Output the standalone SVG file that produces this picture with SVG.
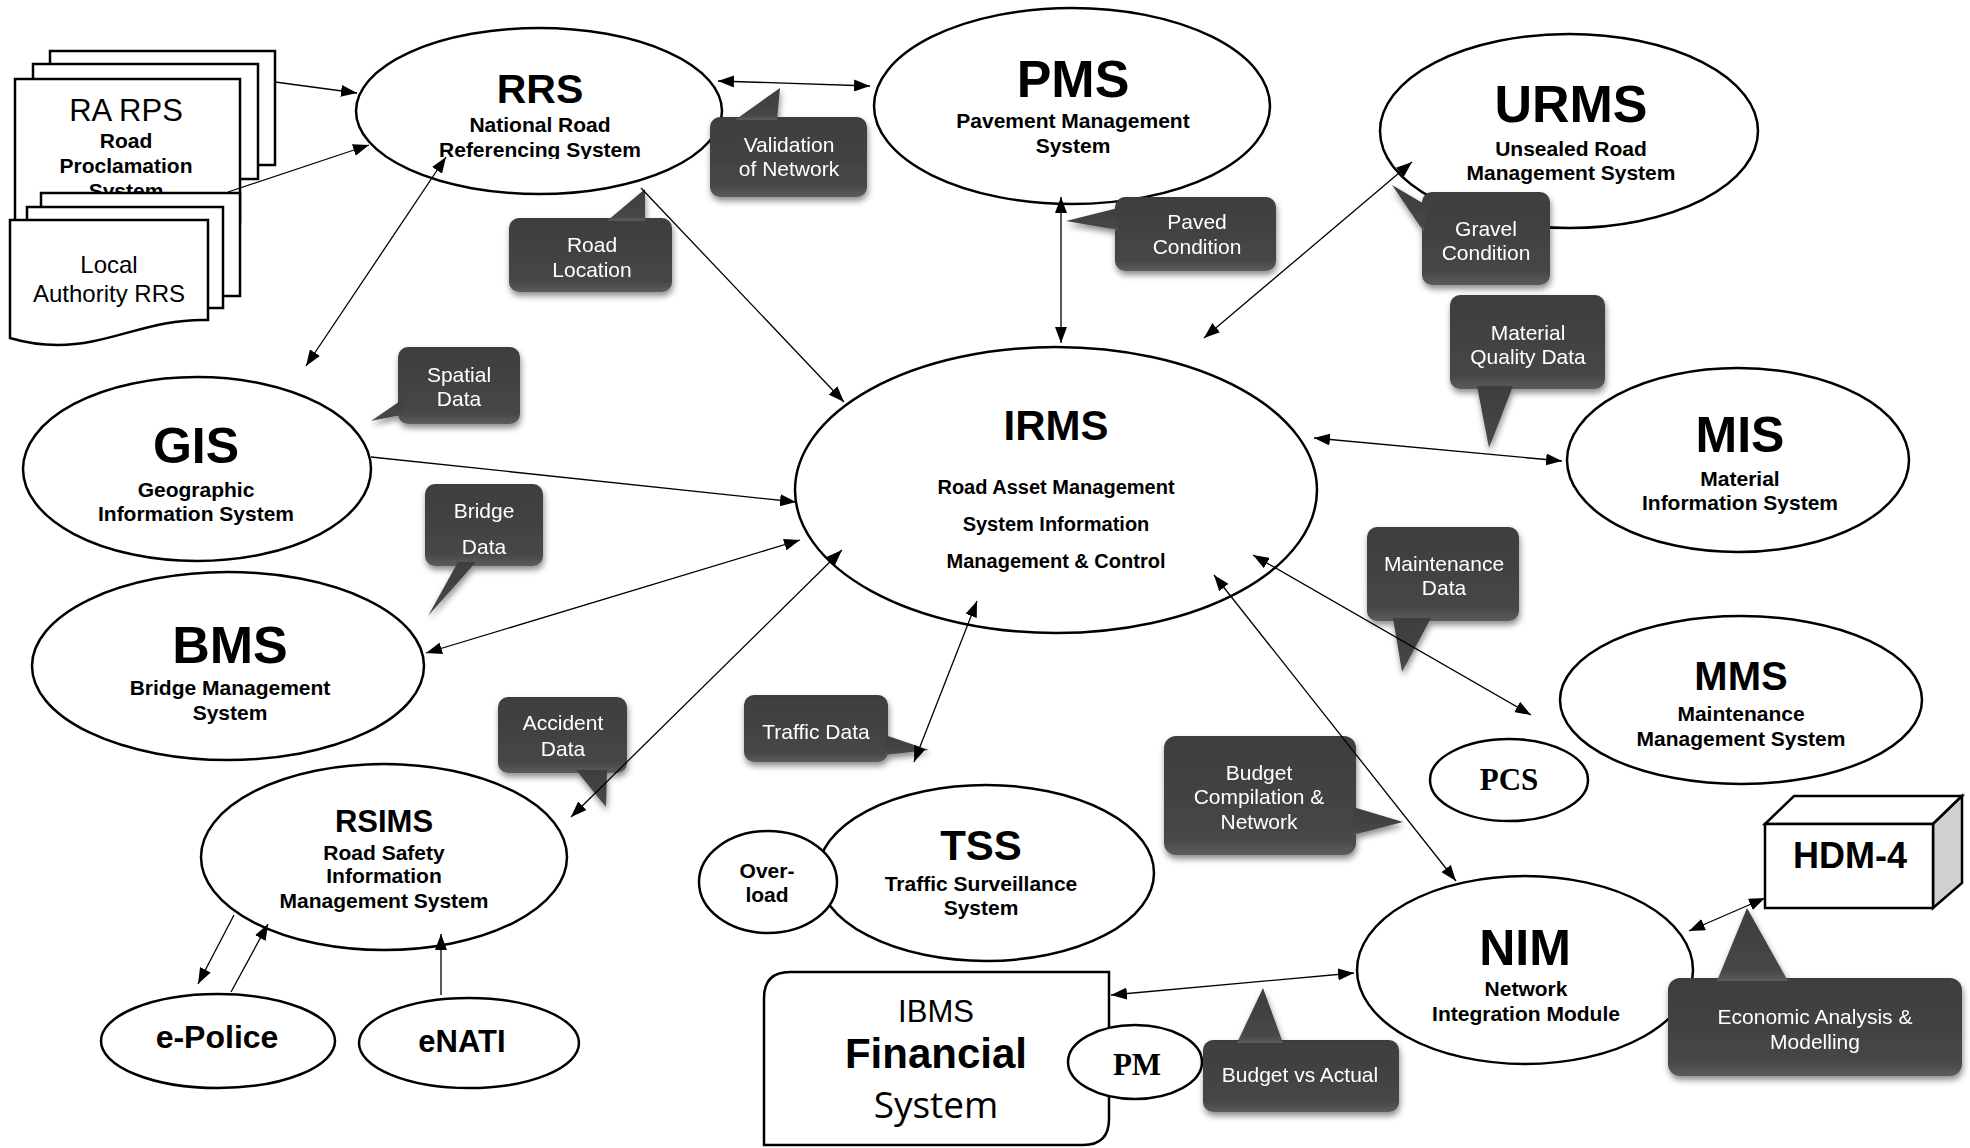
<svg xmlns="http://www.w3.org/2000/svg" width="1970" height="1148" viewBox="0 0 1970 1148">
<style>
  text{font-family:"Liberation Sans",Arial,sans-serif;text-anchor:middle;fill:#000}
  .node{fill:#fff;stroke:#000;stroke-width:2.5}
  .page{fill:#fff;stroke:#000;stroke-width:2.5}
  .big{font-weight:bold}
  .sub{font-weight:bold;font-size:21px}
  .bt{fill:#fff;font-size:21px}
  .serif{font-family:"Liberation Serif","Times New Roman",serif;font-weight:bold;font-size:31px}
  .bub{fill:url(#bg)}
  .conn line{stroke:#000;stroke-width:1.3;fill:none}
</style>
<defs>
  <linearGradient id="bg" x1="0" y1="0" x2="0" y2="1">
    <stop offset="0" stop-color="#3e3e3e"/>
    <stop offset="0.85" stop-color="#464646"/>
    <stop offset="1" stop-color="#5c5c5c"/>
  </linearGradient>
  <filter id="sh" x="-20%" y="-20%" width="140%" height="150%">
    <feDropShadow dx="1" dy="4" stdDeviation="3" flood-color="#000" flood-opacity="0.45"/>
  </filter>
  <marker id="ah" viewBox="0 0 16 12" refX="16" refY="6" markerWidth="16" markerHeight="12" markerUnits="userSpaceOnUse" orient="auto-start-reverse">
    <path d="M0,0 L16,6 L0,12 z" fill="#000"/>
  </marker>
  <clipPath id="clipRRS"><rect x="350" y="20" width="380" height="139"/></clipPath>
  <clipPath id="clipBud"><rect x="1160" y="730" width="200" height="102"/></clipPath>
</defs>
<rect width="1970" height="1148" fill="#fff"/>

<!-- Document stacks -->
<g id="ra-rps">
  <rect class="page" x="50" y="51" width="225" height="114"/>
  <rect class="page" x="33" y="64" width="225" height="115"/>
  <rect class="page" x="15" y="79" width="225" height="143"/>
  <text x="126" y="121" font-size="31">RA RPS</text>
  <text class="sub" x="126" y="148">Road</text>
  <text class="sub" x="126" y="173">Proclamation</text>
  <text class="sub" x="126" y="198">System</text>
</g>
<g id="local-rrs">
  <rect class="page" x="41" y="193" width="199" height="103"/>
  <rect class="page" x="27" y="207" width="196" height="101"/>
  <path class="page" d="M10,220 H208 V320 C150,318 110,345 58,345 C35,345 20,341 10,338 Z"/>
  <text x="109" y="273" font-size="24">Local</text>
  <text x="109" y="302" font-size="24">Authority RRS</text>
</g>

<g id="rrs">
  <ellipse class="node" cx="539" cy="111" rx="183" ry="83"/>
  <text class="big" x="540" y="103" font-size="41">RRS</text>
  <g clip-path="url(#clipRRS)">
    <text class="sub" x="540" y="132">National Road</text>
    <text class="sub" x="540" y="157">Referencing System</text>
  </g>
</g>
<g id="pms">
  <ellipse class="node" cx="1072" cy="106" rx="198" ry="98"/>
  <text class="big" x="1073" y="97" font-size="52">PMS</text>
  <text class="sub" x="1073" y="128">Pavement Management</text>
  <text class="sub" x="1073" y="153">System</text>
</g>
<g id="urms">
  <ellipse class="node" cx="1569" cy="131" rx="189" ry="97"/>
  <text class="big" x="1571" y="122" font-size="52">URMS</text>
  <text class="sub" x="1571" y="156">Unsealed Road</text>
  <text class="sub" x="1571" y="180">Management System</text>
</g>
<g id="mis">
  <ellipse class="node" cx="1738" cy="460" rx="171" ry="92"/>
  <text class="big" x="1740" y="452" font-size="50">MIS</text>
  <text class="sub" x="1740" y="486">Material</text>
  <text class="sub" x="1740" y="510">Information System</text>
</g>
<g id="irms">
  <ellipse class="node" cx="1056" cy="490" rx="261" ry="143"/>
  <text class="big" x="1056" y="440" font-size="42">IRMS</text>
  <text class="big" x="1056" y="494" font-size="20">Road Asset Management</text>
  <text class="big" x="1056" y="531" font-size="20">System Information</text>
  <text class="big" x="1056" y="568" font-size="20">Management &amp; Control</text>
</g>
<g id="gis">
  <ellipse class="node" cx="197" cy="469" rx="174" ry="92"/>
  <text class="big" x="196" y="463" font-size="50">GIS</text>
  <text class="sub" x="196" y="497">Geographic</text>
  <text class="sub" x="196" y="521">Information System</text>
</g>
<g id="bms">
  <ellipse class="node" cx="228" cy="666" rx="196" ry="94"/>
  <text class="big" x="230" y="663" font-size="52">BMS</text>
  <text class="sub" x="230" y="695">Bridge Management</text>
  <text class="sub" x="230" y="720">System</text>
</g>
<g id="rsims">
  <ellipse class="node" cx="384" cy="857" rx="183" ry="93"/>
  <text class="big" x="384" y="832" font-size="31">RSIMS</text>
  <text class="sub" x="384" y="860">Road Safety</text>
  <text class="sub" x="384" y="883">Information</text>
  <text class="sub" x="384" y="908">Management System</text>
</g>
<g id="epolice">
  <ellipse class="node" cx="218" cy="1041" rx="117" ry="47"/>
  <text class="big" x="217" y="1048" font-size="32">e-Police</text>
</g>
<g id="enati">
  <ellipse class="node" cx="469" cy="1043" rx="110" ry="45"/>
  <text class="big" x="462" y="1052" font-size="31">eNATI</text>
</g>
<g id="tss">
  <ellipse class="node" cx="986" cy="873" rx="168" ry="88"/>
  <text class="big" x="981" y="860" font-size="42">TSS</text>
  <text class="sub" x="981" y="891">Traffic Surveillance</text>
  <text class="sub" x="981" y="915">System</text>
</g>
<g id="overload">
  <ellipse class="node" cx="768" cy="882" rx="69" ry="51"/>
  <text class="sub" x="767" y="878">Over-</text>
  <text class="sub" x="767" y="902">load</text>
</g>
<g id="ibms">
  <path class="node" d="M764,998 Q764,972 790,972 H1109 V1119 Q1109,1145 1083,1145 H764 Z"/>
  <text x="936" y="1022" font-size="31">IBMS</text>
  <text class="big" x="936" y="1068" font-size="42">Financial</text>
  <text x="936" y="1118" font-size="37" style="font-family:'Open Sans','Liberation Sans',sans-serif">System</text>
</g>
<g id="pm">
  <ellipse class="node" cx="1135" cy="1062" rx="67" ry="37"/>
  <text class="serif" x="1137" y="1075">PM</text>
</g>
<g id="pcs">
  <ellipse class="node" cx="1509" cy="780" rx="79" ry="41"/>
  <text class="serif" x="1509" y="790">PCS</text>
</g>
<g id="mms">
  <ellipse class="node" cx="1741" cy="700" rx="181" ry="84"/>
  <text class="big" x="1741" y="690" font-size="40">MMS</text>
  <text class="sub" x="1741" y="721">Maintenance</text>
  <text class="sub" x="1741" y="746">Management System</text>
</g>
<g id="nim">
  <ellipse class="node" cx="1525" cy="970" rx="168" ry="94"/>
  <text class="big" x="1525" y="965" font-size="50">NIM</text>
  <text class="sub" x="1526" y="996">Network</text>
  <text class="sub" x="1526" y="1021">Integration Module</text>
</g>
<g id="hdm4">
  <polygon class="node" points="1765,824 1794,796 1962,796 1933,824"/>
  <polygon class="node" points="1933,824 1962,796 1962,883 1933,908" style="fill:#d0d0d0"/>
  <rect class="node" x="1765" y="824" width="168" height="84"/>
  <text class="big" x="1850" y="868" font-size="36">HDM-4</text>
</g>

<!-- Callout labels -->
<g id="lbl-validation" filter="url(#sh)">
  <rect class="bub" x="710" y="117" width="157" height="80" rx="10"/>
  <polygon class="bub" points="735,120 780,88 777,120"/>
  <text class="bt" x="789" y="152">Validation</text>
  <text class="bt" x="789" y="176">of Network</text>
</g>
<g id="lbl-roadloc" filter="url(#sh)">
  <rect class="bub" x="509" y="218" width="163" height="74" rx="10"/>
  <polygon class="bub" points="607,221 645,189 645,221"/>
  <text class="bt" x="592" y="252">Road</text>
  <text class="bt" x="592" y="277">Location</text>
</g>
<g id="lbl-paved" filter="url(#sh)">
  <rect class="bub" x="1115" y="197" width="161" height="74" rx="10"/>
  <polygon class="bub" points="1118,208 1066,221 1118,230"/>
  <text class="bt" x="1197" y="229">Paved</text>
  <text class="bt" x="1197" y="254">Condition</text>
</g>
<g id="lbl-gravel" filter="url(#sh)">
  <rect class="bub" x="1422" y="192" width="128" height="93" rx="10"/>
  <polygon class="bub" points="1426,205 1392,185 1424,232"/>
  <text class="bt" x="1486" y="236">Gravel</text>
  <text class="bt" x="1486" y="260">Condition</text>
</g>
<g id="lbl-material" filter="url(#sh)">
  <rect class="bub" x="1450" y="295" width="155" height="94" rx="10"/>
  <polygon class="bub" points="1477,386 1489,448 1513,386"/>
  <text class="bt" x="1528" y="340">Material</text>
  <text class="bt" x="1528" y="364">Quality Data</text>
</g>
<g id="lbl-spatial" filter="url(#sh)">
  <rect class="bub" x="398" y="347" width="122" height="77" rx="10"/>
  <polygon class="bub" points="406,397 371,421 401,415"/>
  <text class="bt" x="459" y="382">Spatial</text>
  <text class="bt" x="459" y="406">Data</text>
</g>
<g id="lbl-bridge" filter="url(#sh)">
  <rect class="bub" x="425" y="484" width="118" height="82" rx="10"/>
  <polygon class="bub" points="458,562 428,616 476,562"/>
  <text class="bt" x="484" y="518">Bridge</text>
  <text class="bt" x="484" y="554">Data</text>
</g>
<g id="lbl-maint" filter="url(#sh)">
  <rect class="bub" x="1367" y="527" width="152" height="94" rx="10"/>
  <polygon class="bub" points="1393,618 1402,672 1431,618"/>
  <text class="bt" x="1444" y="571">Maintenance</text>
  <text class="bt" x="1444" y="595">Data</text>
</g>
<g id="lbl-accident" filter="url(#sh)">
  <rect class="bub" x="498" y="697" width="129" height="76" rx="10"/>
  <polygon class="bub" points="576,770 606,807 607,770"/>
  <text class="bt" x="563" y="730">Accident</text>
  <text class="bt" x="563" y="756">Data</text>
</g>
<g id="lbl-traffic" filter="url(#sh)">
  <rect class="bub" x="744" y="695" width="144" height="67" rx="10"/>
  <polygon class="bub" points="885,735 929,750 885,755"/>
  <text class="bt" x="816" y="739">Traffic Data</text>
</g>
<g id="lbl-budget" filter="url(#sh)">
  <rect class="bub" x="1164" y="736" width="192" height="119" rx="12"/>
  <polygon class="bub" points="1353,807 1403,822 1353,835"/>
  <g clip-path="url(#clipBud)">
    <text class="bt" x="1259" y="780">Budget</text>
    <text class="bt" x="1259" y="804">Compilation &amp;</text>
    <text class="bt" x="1259" y="829">Network</text>
  </g>
</g>
<g id="lbl-bva" filter="url(#sh)">
  <rect class="bub" x="1203" y="1040" width="196" height="72" rx="10"/>
  <polygon class="bub" points="1237,1043 1263,988 1283,1043"/>
  <text class="bt" x="1300" y="1082">Budget vs Actual</text>
</g>
<g id="lbl-econ" filter="url(#sh)">
  <rect class="bub" x="1668" y="978" width="294" height="98" rx="12"/>
  <polygon class="bub" points="1717,981 1747,908 1788,981"/>
  <text class="bt" x="1815" y="1024">Economic Analysis &amp;</text>
  <text class="bt" x="1815" y="1049">Modelling</text>
</g>

<!-- Connectors -->
<g id="connectors" class="conn">
  <line x1="275" y1="82" x2="357" y2="93" marker-end="url(#ah)"/>
  <line x1="228" y1="192" x2="369" y2="145" marker-end="url(#ah)"/>
  <line x1="718" y1="81" x2="870" y2="86" marker-start="url(#ah)" marker-end="url(#ah)"/>
  <line x1="446" y1="157" x2="306" y2="366" marker-start="url(#ah)" marker-end="url(#ah)"/>
  <line x1="641" y1="188" x2="844" y2="402" marker-end="url(#ah)"/>
  <line x1="1061" y1="197" x2="1061" y2="343" marker-start="url(#ah)" marker-end="url(#ah)"/>
  <line x1="1412" y1="162" x2="1204" y2="338" marker-start="url(#ah)" marker-end="url(#ah)"/>
  <line x1="1314" y1="438" x2="1562" y2="461" marker-start="url(#ah)" marker-end="url(#ah)"/>
  <line x1="371" y1="457" x2="796" y2="502" marker-end="url(#ah)"/>
  <line x1="426" y1="653" x2="800" y2="540" marker-start="url(#ah)" marker-end="url(#ah)"/>
  <line x1="571" y1="817" x2="842" y2="550" marker-start="url(#ah)" marker-end="url(#ah)"/>
  <line x1="914" y1="762" x2="977" y2="601" marker-start="url(#ah)" marker-end="url(#ah)"/>
  <line x1="1253" y1="555" x2="1531" y2="715" marker-start="url(#ah)" marker-end="url(#ah)"/>
  <line x1="1214" y1="575" x2="1456" y2="881" marker-start="url(#ah)" marker-end="url(#ah)"/>
  <line x1="1111" y1="995" x2="1354" y2="973" marker-start="url(#ah)" marker-end="url(#ah)"/>
  <line x1="1689" y1="931" x2="1765" y2="898" marker-start="url(#ah)" marker-end="url(#ah)"/>
  <line x1="234" y1="915" x2="198" y2="984" marker-end="url(#ah)"/>
  <line x1="231" y1="992" x2="268" y2="924" marker-end="url(#ah)"/>
  <line x1="441" y1="995" x2="441" y2="934" marker-end="url(#ah)"/>
</g>
</svg>
